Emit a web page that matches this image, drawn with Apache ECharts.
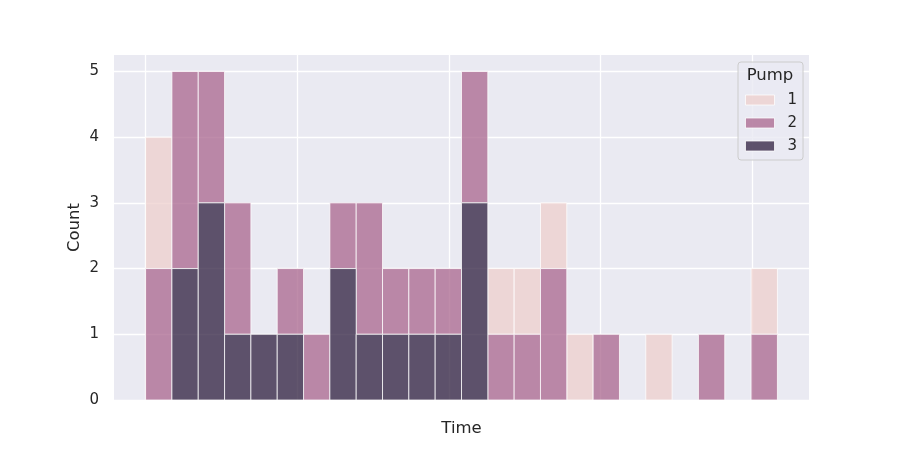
<!DOCTYPE html>
<html><head><meta charset="utf-8">
<script src="https://cdn.jsdelivr.net/npm/echarts@6/dist/echarts.min.js"></script>
<style>html,body{margin:0;padding:0;background:#fff}#c{width:900px;height:450px}</style>
</head><body><div id="c"></div>
<script>
// bin index (each bin has width 1)
const bins = [0,1,2,3,4,5,6,7,8,9,10,11,12,13,14,15,16,17,18,19,20,21,22,23];
const hueLevels = ['1', '2', '3'];
const pump1 = [2,0,0,0,0,0,0,0,0,0,0,0,0,1,1,1,1,0,0,1,0,0,0,1];
const pump2 = [2,3,2,2,0,1,1,1,2,1,1,1,2,1,1,2,0,1,0,0,0,1,0,1];
const pump3 = [0,2,3,1,1,1,0,2,1,1,1,1,3,0,0,0,0,0,0,0,0,0,0,0];
const yTicks = [0,1,2,3,4,5];
const xGridTicks = [0, 5.763, 11.526, 17.289, 23.052];
const colors = {'1':'rgba(237,207,204,0.75)','2':'rgba(169,102,141,0.75)','3':'rgba(45,30,62,0.75)'};

// stacked: pump3 at bottom, then pump2, then pump1
const stackOrder = [['3', pump3], ['2', pump2], ['1', pump1]];
const base = bins.map(() => 0);
const seriesByLevel = {};
stackOrder.forEach(([lvl, vals]) => {
  const d = [];
  bins.forEach((b, i) => {
    if (vals[i] > 0) d.push([b, b + 1, base[i], base[i] + vals[i]]);
    base[i] += vals[i];
  });
  seriesByLevel[lvl] = d;
});

function renderItem(params, api) {
  const p0 = api.coord([api.value(0), api.value(2)]);
  const p1 = api.coord([api.value(1), api.value(3)]);
  return {
    type: 'rect',
    shape: { x: p0[0], y: p1[1], width: p1[0] - p0[0], height: p0[1] - p1[1] },
    style: { fill: api.visual('color'), stroke: 'rgba(255,255,255,0.75)', lineWidth: 1 }
  };
}

const series = hueLevels.map(lvl => ({
  name: lvl, type: 'custom', renderItem: renderItem,
  color: colors[lvl], itemStyle: { color: colors[lvl] },
  encode: { x: [0, 1], y: [2, 3] },
  data: seriesByLevel[lvl], z: 3
}));

const txt = '#262626';
const chart = echarts.init(document.getElementById('c'), null, { renderer: 'canvas' });
chart.setOption({
  animation: false,
  backgroundColor: '#ffffff',
  textStyle: { fontFamily: 'DejaVu Sans' },
  grid: { left: 114, right: 91, top: 55, bottom: 50, show: true, backgroundColor: '#EAEAF2', borderWidth: 0 },
  xAxis: {
    type: 'value', min: -1.2, max: 25.2,
    name: 'Time', nameLocation: 'middle', nameGap: 20,
    nameTextStyle: { color: txt, fontSize: 16.5, fontFamily: 'DejaVu Sans' },
    axisLine: { show: false },
    axisTick: { show: false, customValues: xGridTicks },
    axisLabel: { show: false },
    splitLine: { show: true, lineStyle: { color: '#ffffff', width: 1.3 } }
  },
  yAxis: {
    type: 'value', min: 0, max: 5.25, interval: 1,
    name: 'Count', nameLocation: 'middle', nameGap: 31, nameMoveOverlap: false,
    nameTextStyle: { color: txt, fontSize: 16.5, fontFamily: 'DejaVu Sans' },
    axisLine: { show: false },
    axisTick: { show: false, customValues: yTicks },
    axisLabel: { color: txt, fontSize: 15, margin: 15, customValues: yTicks, fontFamily: 'DejaVu Sans' },
    splitLine: { show: true, lineStyle: { color: '#ffffff', width: 1.3 } }
  },
  legend: {
    orient: 'vertical', left: 738, top: 62,
    data: hueLevels,
    icon: 'rect', itemWidth: 29, itemHeight: 10, itemGap: 8,
    padding: [30.5, 6, 6.5, 7],
    itemStyle: { borderColor: 'rgba(255,255,255,0.75)', borderWidth: 1 },
    textStyle: { color: txt, fontSize: 15, lineHeight: 15, padding: [0, 0, 0, 8], fontFamily: 'DejaVu Sans' },
    backgroundColor: 'rgba(234,234,242,0.8)',
    borderColor: '#cccccc', borderWidth: 1, borderRadius: 3
  },
  graphic: [{
    type: 'text', x: 770, y: 76, z: 100,
    style: { text: 'Pump', fill: txt, font: '16.5px "DejaVu Sans"', textAlign: 'center', textVerticalAlign: 'middle' }
  }],
  series: series
});
</script></body></html>
